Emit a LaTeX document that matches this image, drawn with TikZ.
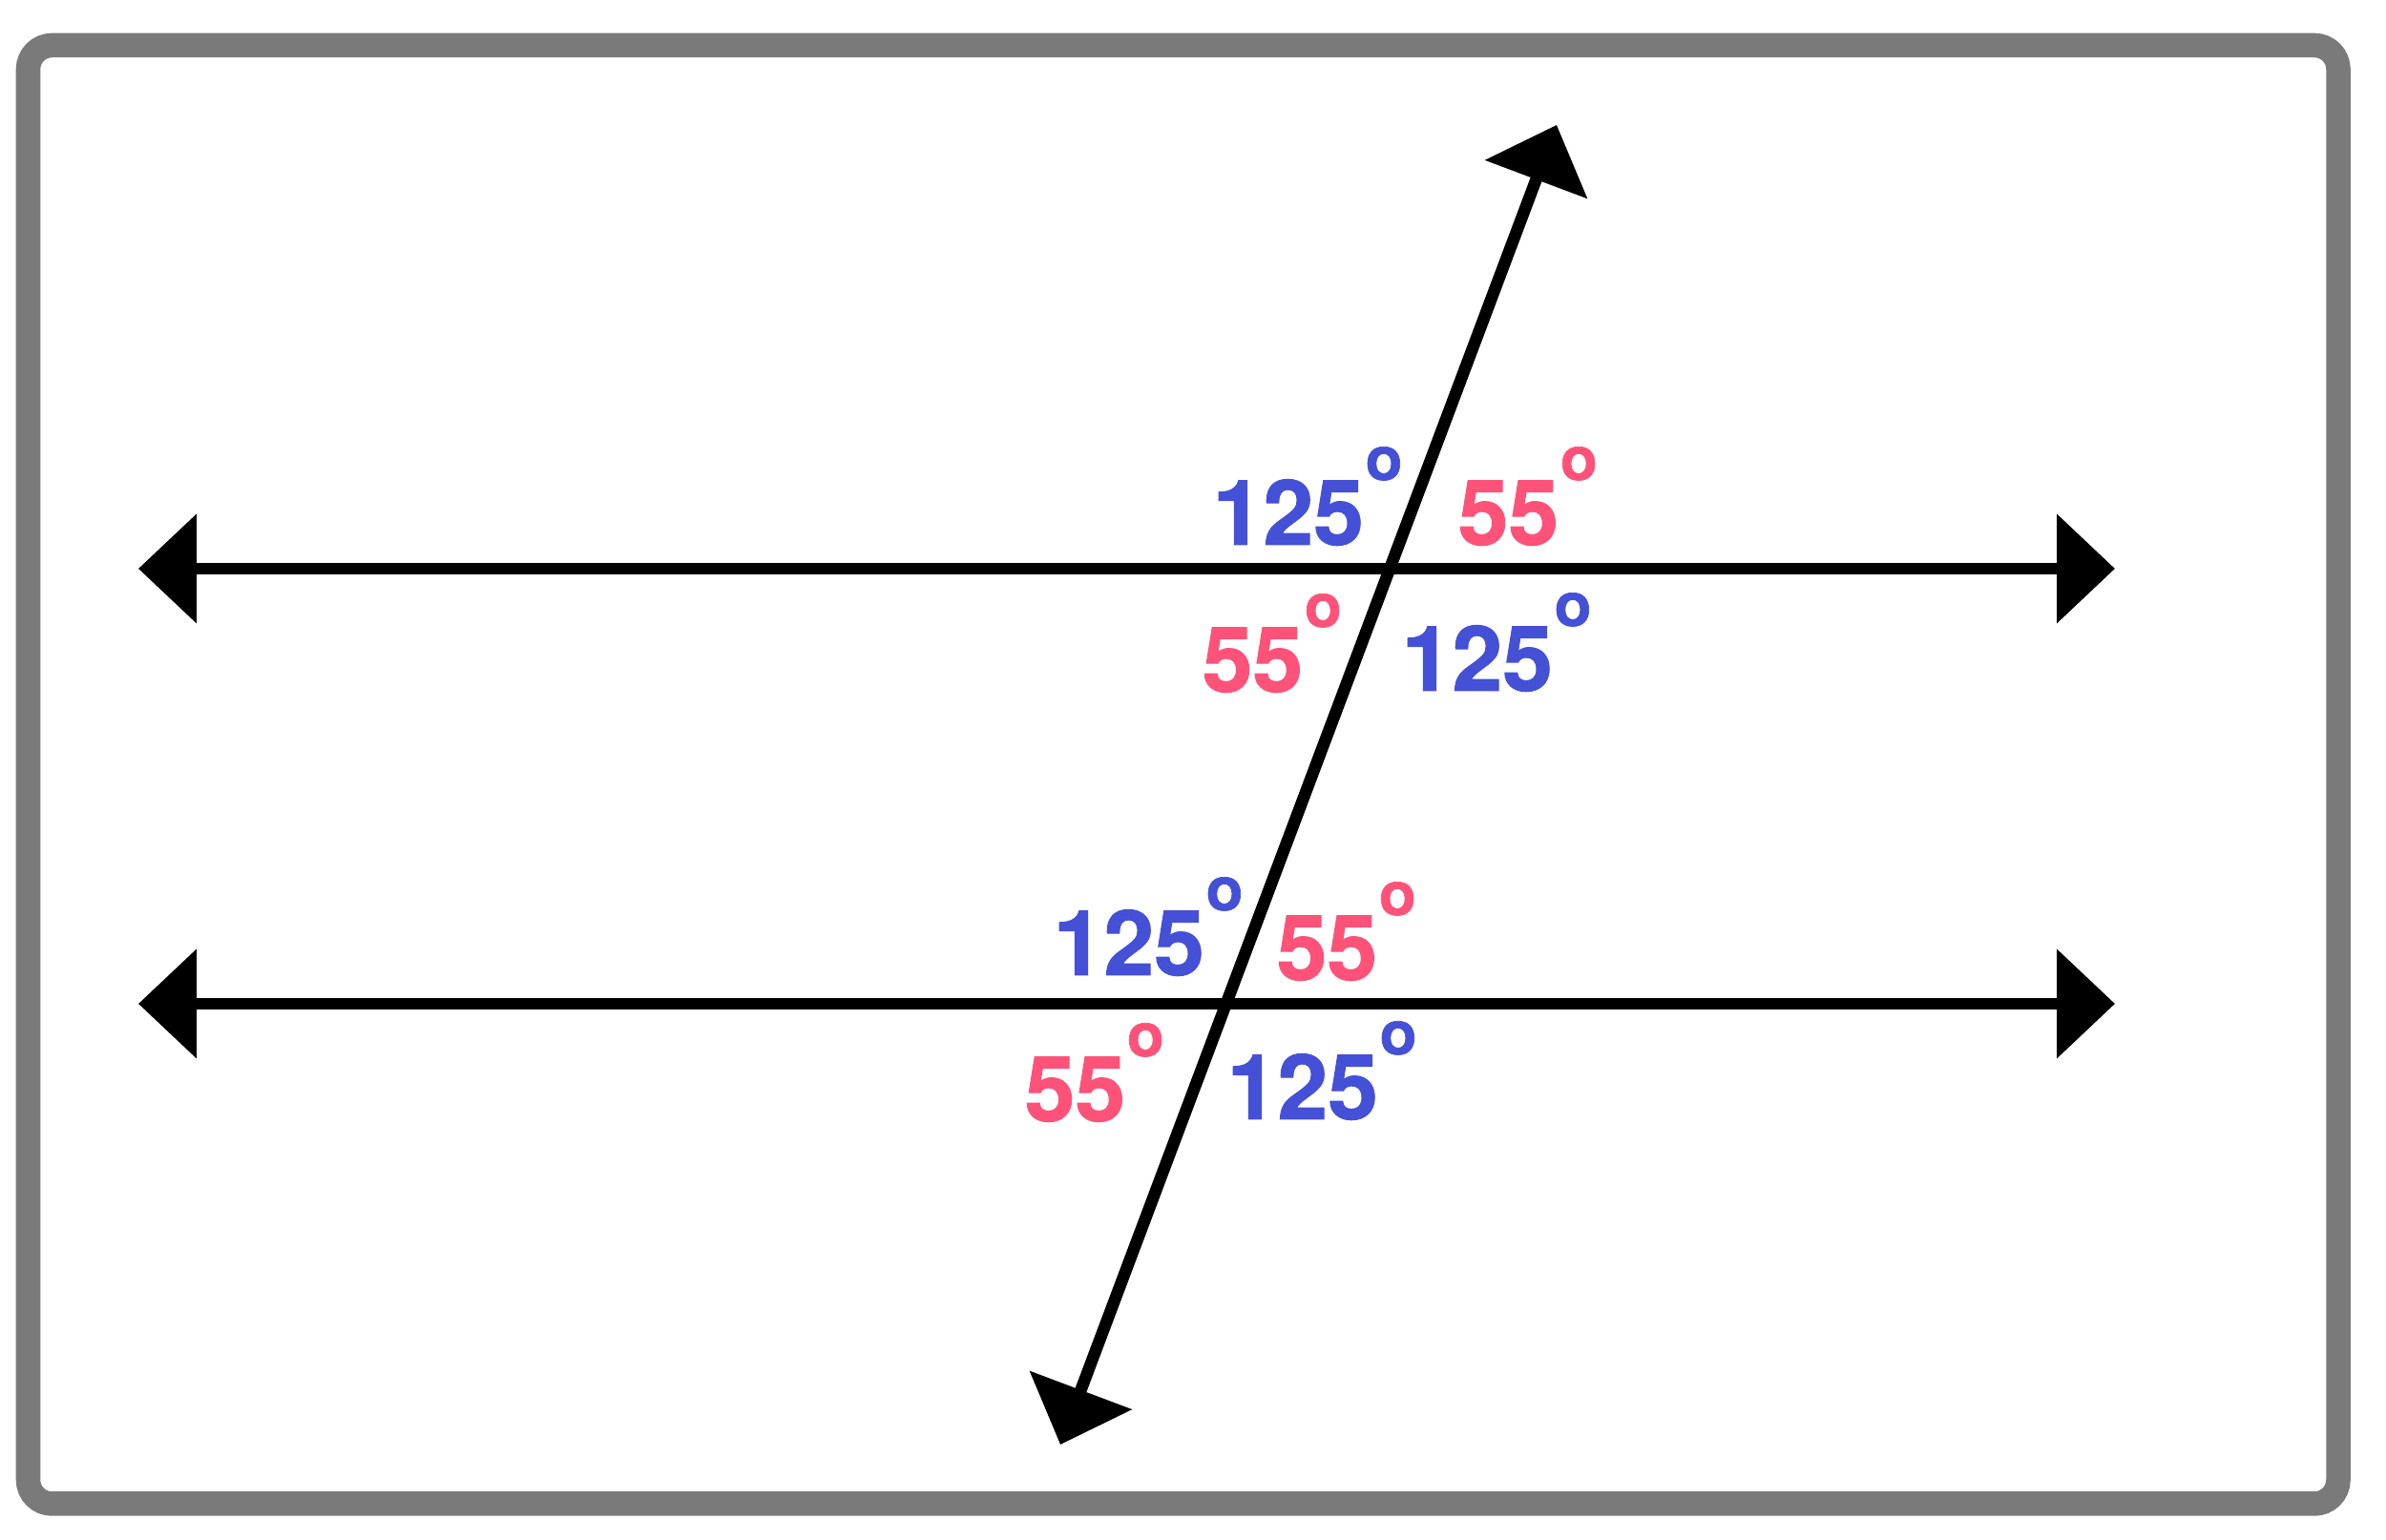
\documentclass[tikz,border=0pt]{standalone}
\usepackage{fontspec}
\setmainfont{TeX Gyre Heros}
\newfontfamily\anglefont{TeX Gyre Heros}[BoldFeatures={FakeBold=1}]
\usetikzlibrary{arrows.meta}
\definecolor{angblue}{HTML}{4450D6}
\definecolor{angred}{HTML}{FF5278}
\definecolor{framegray}{HTML}{7A7A7A}
\newcommand{\degsign}{\kern0.5pt\raisebox{0.68cm}{\fontsize{18}{18}\selectfont o}}

\begin{document}
\begin{tikzpicture}
      \tikzset{line/.style = {line width=0.125cm, <->, > = {Triangle[length=0.61cm,width=1.12cm]}}}
      \tikzset{anglab/.style = {anchor=base west, inner sep=0pt, font=\fontsize{27}{27}\selectfont\anglefont\bfseries}}
      \useasboundingbox (0,0) rectangle (25,16.14);
      \draw[framegray, line width=0.255cm, rounded corners=0.25cm] (0.295,0.38) rectangle (24.50,15.665);

      \coordinate (l1) at (1.45, 10.18);
      \coordinate (r1) at (22.16, 10.18);
      \coordinate (l2) at (1.45, 5.62);
      \coordinate (r2) at (22.16, 5.62);
      \coordinate (b) at (11.11, 1.00);
      \coordinate (t) at (16.31, 14.83);

      \draw[line] (l1) -- (r1);
      \draw[line] (l2) -- (r2);
      \draw[line] (b) -- (t);

      % upper crossing
      \node[anglab, angblue] (u1) at (12.70, 10.43) {125\degsign};
      \node[anglab, angred] (u2) at (15.27, 10.43) {55\degsign};
      \node[anglab, angred] (u3) at (12.59, 8.89) {55\degsign};
      \node[anglab, angblue] (u4) at (14.68, 8.90) {125\degsign};
      % lower crossing
      \node[anglab, angblue] (d1) at (11.03, 5.92) {125\degsign};
      \node[anglab, angred] (d2) at (13.37, 5.87) {55\degsign};
      \node[anglab, angred] (d3) at (10.73, 4.39) {55\degsign};
      \node[anglab, angblue] (d4) at (12.85, 4.41) {125\degsign};
\end{tikzpicture}
\end{document}
